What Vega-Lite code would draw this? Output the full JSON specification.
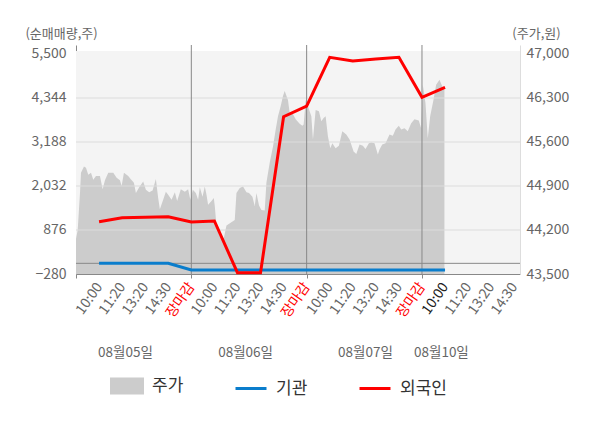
{
  "$schema": "https://vega.github.io/schema/vega-lite/v6.json",
  "width": 444,
  "height": 229,
  "autosize": {"type": "none"},
  "padding": {"left": 76, "top": 45, "right": 80, "bottom": 154},
  "background": "white",
  "config": {"view": {"stroke": null}, "font": "Noto Sans CJK KR"},
  "datasets": {
    "price": [
      {"s": 0, "p": 44060}, {"s": 0.074, "p": 44200}, {"s": 0.173, "p": 44790}, {"s": 0.216, "p": 45110},
      {"s": 0.346, "p": 45210}, {"s": 0.433, "p": 45190}, {"s": 0.532, "p": 45080}, {"s": 0.649, "p": 45110},
      {"s": 0.749, "p": 45000}, {"s": 0.866, "p": 45060}, {"s": 1.039, "p": 45060}, {"s": 1.156, "p": 44850},
      {"s": 1.255, "p": 44990}, {"s": 1.398, "p": 45110}, {"s": 1.615, "p": 45110}, {"s": 1.762, "p": 45030},
      {"s": 1.905, "p": 44990}, {"s": 1.978, "p": 44900}, {"s": 2.078, "p": 45110}, {"s": 2.264, "p": 45060},
      {"s": 2.368, "p": 45010}, {"s": 2.511, "p": 44950}, {"s": 2.597, "p": 44790}, {"s": 2.74, "p": 44880},
      {"s": 2.913, "p": 44970}, {"s": 3.03, "p": 44840}, {"s": 3.173, "p": 44800}, {"s": 3.32, "p": 44830},
      {"s": 3.463, "p": 45010}, {"s": 3.563, "p": 44710}, {"s": 3.636, "p": 44530}, {"s": 3.779, "p": 44680},
      {"s": 3.896, "p": 44810}, {"s": 3.996, "p": 44760}, {"s": 4.143, "p": 44680}, {"s": 4.286, "p": 44800},
      {"s": 4.385, "p": 44660}, {"s": 4.545, "p": 44850}, {"s": 4.719, "p": 44810}, {"s": 4.861, "p": 44850},
      {"s": 4.957, "p": 44680},
      {"s": 5.065, "p": 44840}, {"s": 5.195, "p": 44790}, {"s": 5.294, "p": 44680}, {"s": 5.368, "p": 44880},
      {"s": 5.485, "p": 44730}, {"s": 5.584, "p": 44890}, {"s": 5.658, "p": 44760}, {"s": 5.727, "p": 44600},
      {"s": 5.874, "p": 44660}, {"s": 5.974, "p": 44710}, {"s": 6.017, "p": 44580}, {"s": 6.091, "p": 44260},
      {"s": 6.234, "p": 44100}, {"s": 6.407, "p": 44070}, {"s": 6.524, "p": 44270}, {"s": 6.883, "p": 44360},
      {"s": 6.957, "p": 44790}, {"s": 7.1, "p": 44870}, {"s": 7.242, "p": 44890}, {"s": 7.39, "p": 44800},
      {"s": 7.502, "p": 44790}, {"s": 7.649, "p": 44730}, {"s": 7.749, "p": 44580}, {"s": 7.823, "p": 44790},
      {"s": 7.935, "p": 44590}, {"s": 8.039, "p": 44520}, {"s": 8.182, "p": 44510}, {"s": 8.255, "p": 44950},
      {"s": 8.398, "p": 45270}, {"s": 8.541, "p": 45530}, {"s": 8.658, "p": 45800}, {"s": 8.758, "p": 46010},
      {"s": 8.874, "p": 46170}, {"s": 8.974, "p": 46330}, {"s": 9.048, "p": 46410}, {"s": 9.19, "p": 46270},
      {"s": 9.264, "p": 46060}, {"s": 9.381, "p": 46060}, {"s": 9.524, "p": 45960}, {"s": 9.697, "p": 45890},
      {"s": 9.814, "p": 45860}, {"s": 9.87, "p": 45880},
      {"s": 9.957, "p": 46270}, {"s": 10.056, "p": 46170}, {"s": 10.203, "p": 46010}, {"s": 10.273, "p": 45640},
      {"s": 10.39, "p": 46110}, {"s": 10.532, "p": 46090}, {"s": 10.636, "p": 45930}, {"s": 10.736, "p": 45980},
      {"s": 10.823, "p": 46010}, {"s": 10.922, "p": 45690}, {"s": 11.026, "p": 45500}, {"s": 11.113, "p": 45580},
      {"s": 11.255, "p": 45500}, {"s": 11.398, "p": 45540}, {"s": 11.545, "p": 45770}, {"s": 11.719, "p": 45720},
      {"s": 11.861, "p": 45640}, {"s": 11.935, "p": 45560}, {"s": 12.035, "p": 45450}, {"s": 12.152, "p": 45410},
      {"s": 12.294, "p": 45560}, {"s": 12.437, "p": 45540}, {"s": 12.554, "p": 45490}, {"s": 12.697, "p": 45580},
      {"s": 12.801, "p": 45590}, {"s": 12.944, "p": 45580}, {"s": 13.087, "p": 45400}, {"s": 13.16, "p": 45480},
      {"s": 13.277, "p": 45560}, {"s": 13.42, "p": 45580}, {"s": 13.593, "p": 45720}, {"s": 13.736, "p": 45700},
      {"s": 13.853, "p": 45800}, {"s": 13.996, "p": 45860}, {"s": 14.1, "p": 45800}, {"s": 14.242, "p": 45820},
      {"s": 14.385, "p": 45770}, {"s": 14.532, "p": 45900}, {"s": 14.675, "p": 45960}, {"s": 14.861, "p": 45940},
      {"s": 14.965, "p": 45820},
      {"s": 15.035, "p": 46510}, {"s": 15.152, "p": 46220}, {"s": 15.251, "p": 45660}, {"s": 15.355, "p": 46010},
      {"s": 15.498, "p": 46270}, {"s": 15.615, "p": 46510}, {"s": 15.758, "p": 46590}, {"s": 15.874, "p": 46490},
      {"s": 15.974, "p": 46430}
    ],
    "flow": [
      {"s": 1, "series": "기관", "v": 0}, {"s": 2, "series": "기관", "v": 0}, {"s": 3, "series": "기관", "v": 0},
      {"s": 4, "series": "기관", "v": 0}, {"s": 5, "series": "기관", "v": -175}, {"s": 6, "series": "기관", "v": -175},
      {"s": 7, "series": "기관", "v": -175}, {"s": 8, "series": "기관", "v": -175}, {"s": 9, "series": "기관", "v": -175},
      {"s": 10, "series": "기관", "v": -175}, {"s": 11, "series": "기관", "v": -175}, {"s": 12, "series": "기관", "v": -175},
      {"s": 13, "series": "기관", "v": -175}, {"s": 14, "series": "기관", "v": -175}, {"s": 15, "series": "기관", "v": -175},
      {"s": 16, "series": "기관", "v": -175},
      {"s": 1, "series": "외국인", "v": 1094}, {"s": 2, "series": "외국인", "v": 1199}, {"s": 3, "series": "외국인", "v": 1210},
      {"s": 4, "series": "외국인", "v": 1225}, {"s": 5, "series": "외국인", "v": 1086}, {"s": 6, "series": "외국인", "v": 1112},
      {"s": 7, "series": "외국인", "v": -246}, {"s": 8, "series": "외국인", "v": -246}, {"s": 9, "series": "외국인", "v": 3852},
      {"s": 10, "series": "외국인", "v": 4133}, {"s": 11, "series": "외국인", "v": 5413}, {"s": 12, "series": "외국인", "v": 5316},
      {"s": 13, "series": "외국인", "v": 5368}, {"s": 14, "series": "외국인", "v": 5413}, {"s": 15, "series": "외국인", "v": 4362},
      {"s": 16, "series": "외국인", "v": 4625}
    ],
    "grid": [{"v": 0}, {"v": 876}, {"v": 2032}, {"v": 3188}, {"v": 4344}],
    "days": [{"s": 5}, {"s": 10}, {"s": 15}]
  },
  "layer": [
    {
      "data": {"name": "price"},
      "layer": [
        {
          "mark": {"type": "rect", "color": "#f4f4f4"},
          "encoding": {
            "y": {
              "datum": 47040, "type": "quantitative",
              "scale": {"domain": [43500, 47143], "zero": false, "nice": false},
              "axis": {
                "orient": "right", "values": [43500, 44200, 44900, 45600, 46300, 47000], "format": ",d",
                "title": "(주가,원)", "titleAngle": 0, "titleAlign": "center", "titleBaseline": "middle",
                "titleX": 16, "titleY": -12, "titleFontSize": 13, "titleFontWeight": "normal", "titleColor": "#666666",
                "grid": false, "ticks": false, "domainColor": "#dddddd",
                "labelFontSize": 14, "labelColor": "#666666", "labelPadding": 6
              }
            },
            "y2": {"datum": 43500}
          }
        },
        {
          "mark": {"type": "area", "opacity": 1},
          "encoding": {
            "x": {
              "field": "s", "type": "quantitative",
              "scale": {"domain": [0, 19.25], "zero": false, "nice": false},
              "axis": {
                "orient": "bottom", "values": [0, 1, 2, 3, 4, 5, 6, 7, 8, 9, 10, 11, 12, 13, 14, 15, 16, 17, 18, 19],
                "title": null, "grid": false, "domainColor": "#888888",
                "ticks": true, "tickSize": 4, "tickColor": "#888888",
                "tickOpacity": {"condition": {"test": "datum.value % 5 === 0", "value": 1}, "value": 0},
                "labelAngle": -55, "labelAlign": "right", "labelBaseline": "middle",
                "labelFontSize": 14, "labelPadding": 6, "labelOverlap": false, "labelFlush": false,
                "labelColor": {"condition": [
                  {"test": "datum.value % 5 === 0", "value": "#ff0000"},
                  {"test": "datum.value === 16", "value": "#222222"}
                ], "value": "#666666"},
                "labelExpr": "datum.value === 0 ? '' : datum.value % 5 === 0 ? '장마감' : ['10:00', '11:20', '13:20', '14:30'][datum.value % 5 - 1]"
              }
            },
            "y": {
              "field": "p", "type": "quantitative",
              "scale": {"domain": [43500, 47143], "zero": false, "nice": false},
              "axis": {
                "orient": "right", "values": [43500, 44200, 44900, 45600, 46300, 47000], "format": ",d",
                "title": "(주가,원)", "titleAngle": 0, "titleAlign": "center", "titleBaseline": "middle",
                "titleX": 16, "titleY": -12, "titleFontSize": 13, "titleFontWeight": "normal", "titleColor": "#666666",
                "grid": false, "ticks": false, "domainColor": "#dddddd",
                "labelFontSize": 14, "labelColor": "#666666", "labelPadding": 6
              }
            },
            "y2": {"datum": 43500},
            "color": {
              "datum": "주가", "type": "nominal",
              "scale": {"domain": ["주가", "기관", "외국인"], "range": ["#cccccc", "#0a7dcc", "#ff0000"]},
              "legend": {
                "orient": "none", "legendX": 34, "legendY": 324, "direction": "horizontal", "title": null,
                "symbolSize": 961, "labelFontSize": 17, "labelColor": "#333333", "labelOffset": 8, "columnPadding": 45,
                "encode": {"symbols": {"update": {
                  "shape": {"signal": "datum.label === '주가' ? 'M-1,-0.45H1V0.45H-1Z' : 'M-1,0H1'"},
                  "fill": {"signal": "datum.label === '주가' ? '#cccccc' : 'transparent'"},
                  "stroke": {"signal": "datum.label === '주가' ? 'transparent' : datum.label === '기관' ? '#0a7dcc' : '#ff0000'"},
                  "strokeWidth": {"value": 3},
                  "opacity": {"value": 1}
                }}}
              }
            }
          }
        }
      ]
    },
    {
      "layer": [
        {
          "data": {"name": "grid"},
          "mark": {"type": "rule", "strokeWidth": 1},
          "encoding": {
            "y": {
              "field": "v", "type": "quantitative",
              "scale": {"domain": [-280, 5736], "zero": false, "nice": false},
              "axis": {
                "orient": "left", "values": [-280, 876, 2032, 3188, 4344, 5500], "format": ",d",
                "title": "(순매매량,주)", "titleAngle": 0, "titleAlign": "center", "titleBaseline": "middle",
                "titleX": -15, "titleY": -12, "titleFontSize": 13, "titleFontWeight": "normal", "titleColor": "#666666",
                "grid": false, "ticks": false, "domainColor": "#888888",
                "labelFontSize": 14, "labelColor": "#666666", "labelPadding": 10
              }
            },
            "color": {"condition": {"test": "datum.v === 0", "value": "#888888"}, "value": "#dddddd"}
          }
        },
        {
          "data": {"name": "days"},
          "mark": {"type": "rule", "color": "#888888", "strokeWidth": 1},
          "encoding": {
            "x": {
              "field": "s", "type": "quantitative",
              "scale": {"domain": [0, 19.25], "zero": false, "nice": false},
              "axis": {
                "orient": "bottom", "values": [2.12, 7.33, 12.53, 15.82], "title": null, "grid": false,
                "domain": false, "ticks": false, "labelAngle": 0, "labelAlign": "center", "labelBaseline": "middle",
                "labelFontSize": 13.5, "labelColor": "#666666", "labelPadding": 78, "labelOverlap": false, "labelFlush": false,
                "labelExpr": "datum.value < 5 ? '08월05일' : datum.value < 10 ? '08월06일' : datum.value < 15 ? '08월07일' : '08월10일'"
              }
            }
          }
        },
        {
          "data": {"name": "flow"},
          "mark": {"type": "line", "strokeWidth": 3},
          "encoding": {
            "x": {
              "field": "s", "type": "quantitative",
              "scale": {"domain": [0, 19.25], "zero": false, "nice": false},
              "axis": {
                "orient": "bottom", "values": [2.12, 7.33, 12.53, 15.82], "title": null, "grid": false,
                "domain": false, "ticks": false, "labelAngle": 0, "labelAlign": "center", "labelBaseline": "middle",
                "labelFontSize": 13.5, "labelColor": "#666666", "labelPadding": 78, "labelOverlap": false, "labelFlush": false,
                "labelExpr": "datum.value < 5 ? '08월05일' : datum.value < 10 ? '08월06일' : datum.value < 15 ? '08월07일' : '08월10일'"
              }
            },
            "y": {
              "field": "v", "type": "quantitative",
              "scale": {"domain": [-280, 5736], "zero": false, "nice": false},
              "axis": {
                "orient": "left", "values": [-280, 876, 2032, 3188, 4344, 5500], "format": ",d",
                "title": "(순매매량,주)", "titleAngle": 0, "titleAlign": "center", "titleBaseline": "middle",
                "titleX": -15, "titleY": -12, "titleFontSize": 13, "titleFontWeight": "normal", "titleColor": "#666666",
                "grid": false, "ticks": false, "domainColor": "#888888",
                "labelFontSize": 14, "labelColor": "#666666", "labelPadding": 10
              }
            },
            "color": {
              "field": "series", "type": "nominal",
              "scale": {"domain": ["주가", "기관", "외국인"], "range": ["#cccccc", "#0a7dcc", "#ff0000"]},
              "legend": {
                "orient": "none", "legendX": 34, "legendY": 324, "direction": "horizontal", "title": null,
                "symbolSize": 961, "labelFontSize": 17, "labelColor": "#333333", "labelOffset": 8, "columnPadding": 45,
                "encode": {"symbols": {"update": {
                  "shape": {"signal": "datum.label === '주가' ? 'M-1,-0.45H1V0.45H-1Z' : 'M-1,0H1'"},
                  "fill": {"signal": "datum.label === '주가' ? '#cccccc' : 'transparent'"},
                  "stroke": {"signal": "datum.label === '주가' ? 'transparent' : datum.label === '기관' ? '#0a7dcc' : '#ff0000'"},
                  "strokeWidth": {"value": 3},
                  "opacity": {"value": 1}
                }}}
              }
            }
          }
        }
      ]
    }
  ],
  "resolve": {"scale": {"y": "independent"}, "axis": {"x": "independent"}}
}
